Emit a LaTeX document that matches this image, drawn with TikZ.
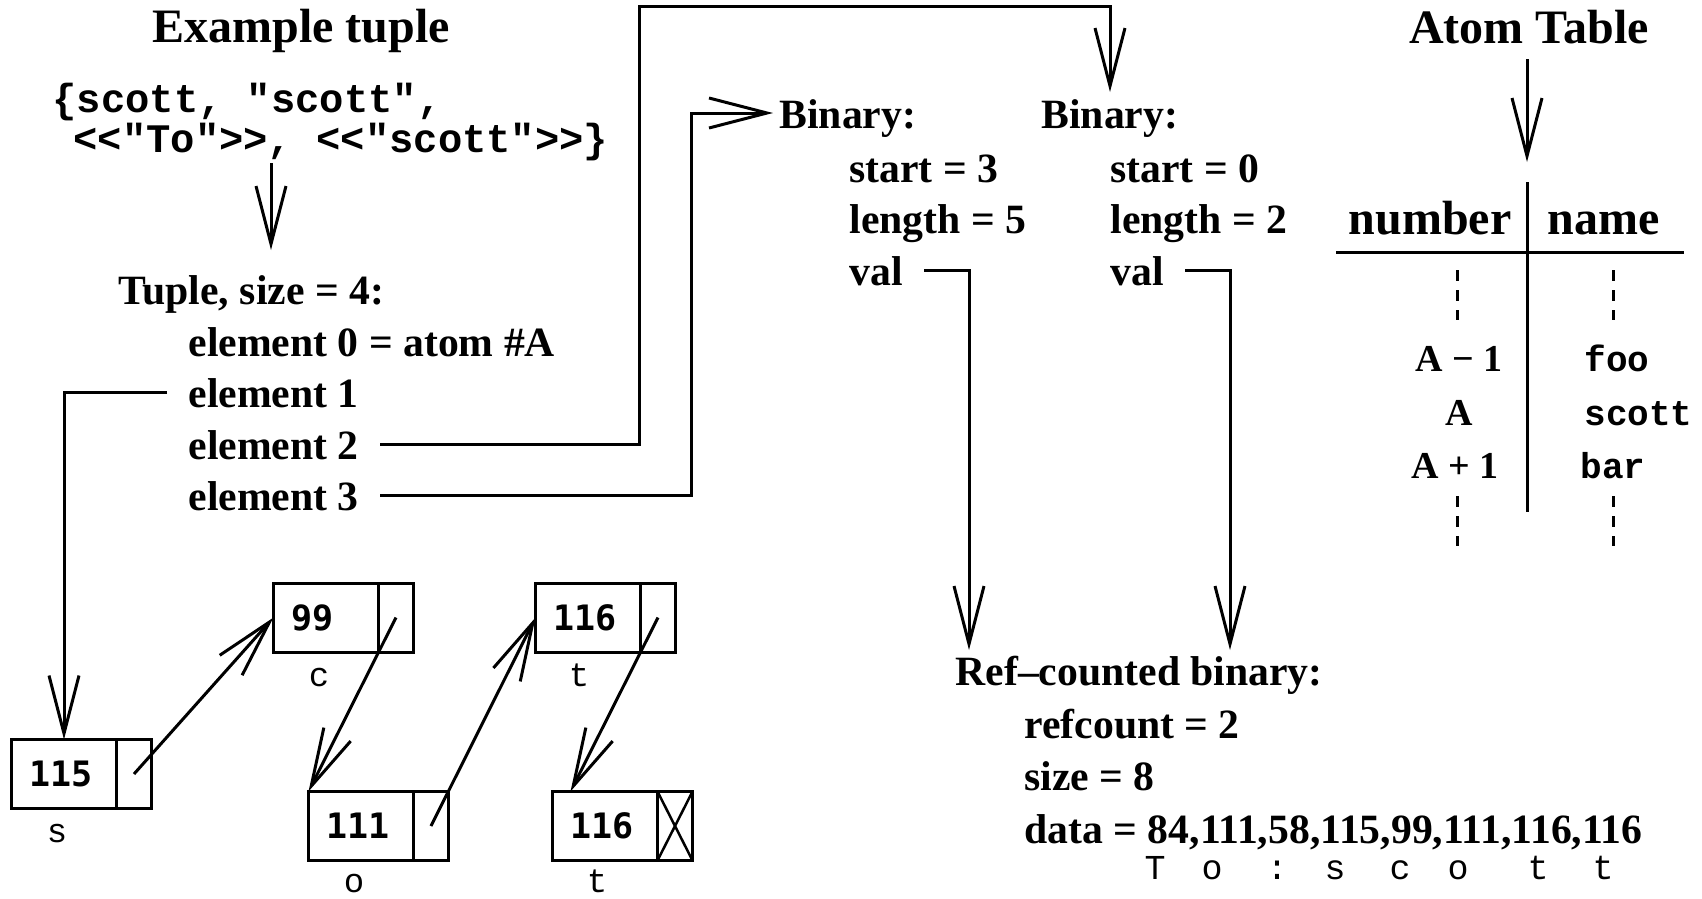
\documentclass[tikz,border=0pt]{standalone}
\usepackage{fontspec}
\setmainfont{Liberation Serif}
\setmonofont{Liberation Mono}
\newfontfamily\cellfont{DejaVu Sans Mono}
\usetikzlibrary{arrows.meta,calc}

\begin{document}
\begin{tikzpicture}[x=1pt,y=-1pt,line width=3pt,
  lbl/.style={inner sep=0pt,anchor=base west,font=\fontsize{41.7}{50}\selectfont\bfseries},
  ttl/.style={inner sep=0pt,anchor=base,font=\fontsize{48}{58}\selectfont\bfseries},
  ent/.style={inner sep=0pt,anchor=base,font=\fontsize{38}{44}\selectfont\bfseries},
  code/.style={inner sep=0pt,anchor=base west,font=\fontsize{40.5}{48}\selectfont\ttfamily\bfseries},
  tcode/.style={inner sep=0pt,anchor=base west,font=\fontsize{36}{42}\selectfont\ttfamily\bfseries},
  chr/.style={inner sep=0pt,anchor=base,font=\fontsize{34}{40}\selectfont\ttfamily},
  letter/.style={inner sep=0pt,anchor=base,font=\fontsize{35}{40}\selectfont\ttfamily},
  cell/.style={draw,outer sep=0pt,inner ysep=0pt,inner xsep=18pt,text width=69pt,align=left,
    minimum height=69pt,font=\fontsize{35}{40}\selectfont\cellfont\bfseries},
  ptr/.style={draw,outer sep=0pt,inner sep=0pt,minimum width=35pt,minimum height=69pt,anchor=west},
  link/.style={-{Straight Barb[length=58pt,width=30pt]}},
  dotted col/.style={dash pattern=on 11pt off 9pt}]

\useasboundingbox (0,0) rectangle (1702,898);

% ---------- example tuple ----------
\node[ttl] (extitle) at (301,42) {Example tuple};
\node[code] (code1) at (51,112) {\{scott, "scott",};
\node[code] (code2) at (72,152) {<<"To">>, <<"scott">>\}};
\coordinate (cdown) at (271,163);
\coordinate (tupin) at (271,250);
\draw[link] (cdown) -- (tupin);

\node[lbl] (tup) at (117,304) {Tuple, size = 4:};
\node[lbl] (el0) at (187,356) {element 0 = atom \#A};
\node[lbl] (el1) at (187,407) {element 1};
\node[lbl] (el2) at (187,459) {element 2};
\node[lbl] (el3) at (187,510) {element 3};

% ---------- linked list of characters ----------
\node[cell] (v115) at (64,774) {115};
\node[ptr] (p115) at (v115.east) {};
\node[cell] (v99) at (326,617.5) {99};
\node[ptr] (p99) at (v99.east) {};
\node[cell] (v111) at (361,826) {111};
\node[ptr] (p111) at (v111.east) {};
\node[cell] (v116a) at (588,617.5) {116};
\node[ptr] (p116a) at (v116a.east) {};
\node[cell] (v116b) at (605,826) {116};
\node[ptr] (p116b) at (v116b.east) {};
\draw[line width=2.5pt] (p116b.north west) -- (p116b.south east)
                        (p116b.south west) -- (p116b.north east);

\node[chr] (ls) at ($(v115.south)+(-7,34)$) {s};
\node[chr] (lc) at ($(v99.south)+(-7,34)$) {c};
\node[chr] (lo) at ($(v111.south)+(-7,32)$) {o};
\node[chr] (lt1) at ($(v116a.south)+(-9,34)$) {t};
\node[chr] (lt2) at ($(v116b.south)+(-8,32)$) {t};

\draw[link] (p115.center) -- (v99.west);
\draw[link] (p99.center) -- (v111.north west);
\draw[link] (p111.center) -- (v116a.west);
\draw[link] (p116a.center) -- ($(v116b.north west)+(18,0)$);

% ---------- binaries ----------
\node[lbl] (b1h) at (778,128) {Binary:};
\node[lbl] (b1s) at (848,182) {start = 3};
\node[lbl] (b1l) at (848,233) {length = 5};
\node[lbl] (b1v) at (848,285) {val};

\node[lbl] (b2h) at (1040,128) {Binary:};
\node[lbl] (b2s) at (1109,182) {start = 0};
\node[lbl] (b2l) at (1109,233) {length = 2};
\node[lbl] (b2v) at (1109,285) {val};

\coordinate (b1in) at ($(b1h.base west)+(-5,-15)$);
\coordinate (b2in) at (1110,92);

\node[lbl] (rcb) at (954,685) {Ref–counted binary:};
\node[lbl] (rc1) at (1023,738) {refcount = 2};
\node[lbl] (rc2) at (1023,790) {size = 8};
\node[lbl] (rc3) at (1023,843) {data = 84,111,58,115,99,111,116,116};
\coordinate (rin1) at (969,650);
\coordinate (rin2) at (1230,650);

\foreach \ch/\px [count=\i] in {T/1155,o/1212,:/1277,s/1335,c/1400,o/1458,t/1538,t/1603}
  \node[letter] (d\i) at (\px,879) {\ch};

% ---------- element pointers ----------
\draw[link] ($(el1.west)+(-20,0)$) -| (v115.north);
\draw[link] ($(el2.east)+(20,0)$) -| (639,6) -| (b2in);
\draw[link] ($(el3.east)+(20,0)$) -| (691,113) -- (b1in);
\draw[link] ($(b1v.east)+(20,0)$) -| (rin1);
\draw[link] ($(b2v.east)+(20,0)$) -| (rin2);

% ---------- atom table ----------
\node[ttl] (atomt) at (1529,43) {Atom Table};
\coordinate (at0) at (1527,59);
\coordinate (at1) at (1527,162);
\draw[link] (at0) -- (at1);

\node[ttl,anchor=base east] (hnum) at (1513,234) {number};
\node[ttl,anchor=base west] (hname) at (1546,234) {name};
\draw (1527,182) -- (1527,512);
\draw (1336,252) -- (1684,252);
\draw[dotted col] (1457,270) -- (1457,320);
\draw[dotted col] (1613,270) -- (1613,320);
\draw[dotted col] (1457,496) -- (1457,546);
\draw[dotted col] (1613,496) -- (1613,546);

\node[ent] (na1) at (1459,371) {A − 1};
\node[ent] (na2) at (1459,425) {A};
\node[ent] (na3) at (1455,478) {A + 1};
\node[tcode] (nm1) at (1583,371) {foo};
\node[tcode] (nm2) at (1583,425) {scott};
\node[tcode] (nm3) at (1579,478) {bar};
\end{tikzpicture}
\end{document}
